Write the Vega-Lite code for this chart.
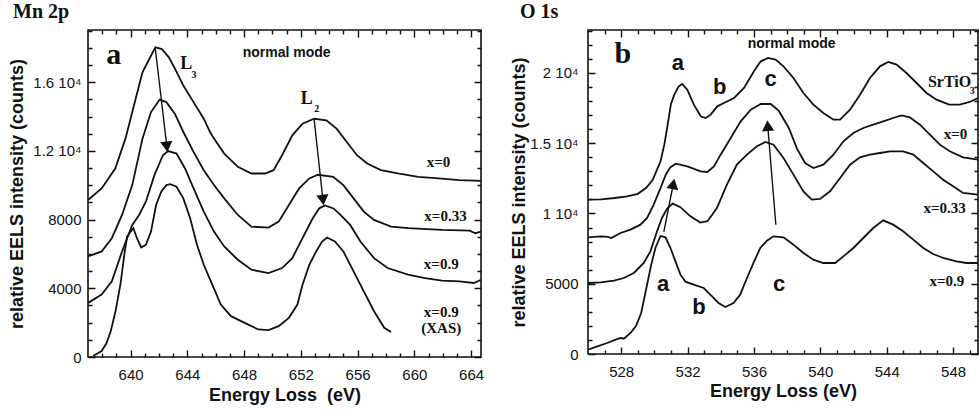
{
  "$schema": "https://vega.github.io/schema/vega-lite/v6.json",
  "padding": {"left": 7, "top": 0, "right": 0, "bottom": 0},
  "spacing": 24,
  "config": {
    "view": {"stroke": "#111", "strokeWidth": 1.6},
    "font": "Liberation Sans",
    "axis": {"ticks": false, "domain": false, "grid": true, "gridColor": "#111", "gridOpacity": 1, "gridWidth": 1.4, "labelColor": "#111", "titleColor": "#111", "labelFont": "Liberation Sans", "titleFont": "Liberation Sans", "labelFontSize": 15, "titleFontSize": 18, "titleFontWeight": "bold", "labelOverlap": false, "labelFlush": false},
    "title": {"font": "Liberation Serif", "fontSize": 20, "fontWeight": "bold", "color": "#111", "anchor": "start", "frame": "group", "baseline": "alphabetic", "offset": 8}
  },
  "datasets": {
    "mn": [
      {"s":"x0","E":637.0,"I":9140},{"s":"x0","E":637.96,"I":9816},{"s":"x0","E":638.92,"I":10976},{"s":"x0","E":639.64,"I":12715},{"s":"x0","E":640.36,"I":15034},{"s":"x0","E":640.84,"I":16580},{"s":"x0","E":641.32,"I":17353},{"s":"x0","E":641.75,"I":18030},{"s":"x0","E":642.2,"I":17932},{"s":"x0","E":642.7,"I":17449},{"s":"x0","E":643.2,"I":16676},{"s":"x0","E":643.72,"I":15807},{"s":"x0","E":644.44,"I":14841},{"s":"x0","E":645.16,"I":13874},{"s":"x0","E":645.6,"I":13100},{"s":"x0","E":645.88,"I":12715},{"s":"x0","E":646.6,"I":11845},{"s":"x0","E":647.56,"I":11072},{"s":"x0","E":648.52,"I":10686},{"s":"x0","E":649.48,"I":10686},{"s":"x0","E":650.08,"I":10879},{"s":"x0","E":650.68,"I":11749},{"s":"x0","E":651.4,"I":12908},{"s":"x0","E":652.12,"I":13585},{"s":"x0","E":652.94,"I":13870},{"s":"x0","E":653.8,"I":13778},{"s":"x0","E":654.52,"I":13295},{"s":"x0","E":655.24,"I":12522},{"s":"x0","E":655.96,"I":11749},{"s":"x0","E":656.68,"I":11266},{"s":"x0","E":657.64,"I":10879},{"s":"x0","E":658.84,"I":10686},{"s":"x0","E":660.28,"I":10493},{"s":"x0","E":661.72,"I":10396},{"s":"x0","E":663.16,"I":10300},{"s":"x0","E":664.7,"I":10250},
      {"s":"x033","E":637.0,"I":5855},{"s":"x033","E":637.96,"I":6145},{"s":"x033","E":638.68,"I":6918},{"s":"x033","E":639.4,"I":8271},{"s":"x033","E":640.12,"I":10010},{"s":"x033","E":640.84,"I":12715},{"s":"x033","E":641.44,"I":14261},{"s":"x033","E":642.05,"I":14990},{"s":"x033","E":642.52,"I":14841},{"s":"x033","E":643.12,"I":14164},{"s":"x033","E":643.72,"I":13101},{"s":"x033","E":644.44,"I":11942},{"s":"x033","E":645.16,"I":10879},{"s":"x033","E":645.88,"I":10010},{"s":"x033","E":646.6,"I":9237},{"s":"x033","E":647.56,"I":8271},{"s":"x033","E":648.52,"I":7594},{"s":"x033","E":649.72,"I":7536},{"s":"x033","E":650.44,"I":7884},{"s":"x033","E":651.16,"I":8850},{"s":"x033","E":651.88,"I":9816},{"s":"x033","E":652.6,"I":10396},{"s":"x033","E":653.2,"I":10610},{"s":"x033","E":654.28,"I":10493},{"s":"x033","E":655.0,"I":10010},{"s":"x033","E":655.72,"I":9237},{"s":"x033","E":656.44,"I":8464},{"s":"x033","E":657.16,"I":7981},{"s":"x033","E":658.36,"I":7594},{"s":"x033","E":659.56,"I":7498},{"s":"x033","E":661.96,"I":7401},{"s":"x033","E":663.9,"I":7362},{"s":"x033","E":664.3,"I":7208},{"s":"x033","E":664.7,"I":7300},
      {"s":"x09","E":637.0,"I":3150},{"s":"x09","E":637.96,"I":3633},{"s":"x09","E":638.68,"I":4406},{"s":"x09","E":639.4,"I":6145},{"s":"x09","E":640.12,"I":7691},{"s":"x09","E":640.6,"I":8271},{"s":"x09","E":641.08,"I":9044},{"s":"x09","E":641.68,"I":10589},{"s":"x09","E":642.28,"I":11749},{"s":"x09","E":642.65,"I":11990},{"s":"x09","E":643.24,"I":11845},{"s":"x09","E":643.84,"I":10976},{"s":"x09","E":644.44,"I":9816},{"s":"x09","E":645.16,"I":8464},{"s":"x09","E":645.88,"I":7304},{"s":"x09","E":646.6,"I":6435},{"s":"x09","E":647.56,"I":5662},{"s":"x09","E":648.52,"I":5082},{"s":"x09","E":649.72,"I":4889},{"s":"x09","E":650.68,"I":5179},{"s":"x09","E":651.4,"I":5758},{"s":"x09","E":652.12,"I":6918},{"s":"x09","E":652.84,"I":8078},{"s":"x09","E":653.3,"I":8657},{"s":"x09","E":653.7,"I":8820},{"s":"x09","E":654.3,"I":8650},{"s":"x09","E":654.76,"I":8300},{"s":"x09","E":655.48,"I":7691},{"s":"x09","E":656.2,"I":6725},{"s":"x09","E":657.16,"I":5758},{"s":"x09","E":658.12,"I":5179},{"s":"x09","E":659.56,"I":4792},{"s":"x09","E":660.76,"I":4599},{"s":"x09","E":661.96,"I":4444},{"s":"x09","E":663.16,"I":4406},{"s":"x09","E":664.2,"I":4309},{"s":"x09","E":664.7,"I":4500},
      {"s":"xas","E":637.36,"I":58},{"s":"xas","E":637.96,"I":348},{"s":"xas","E":638.3,"I":800},{"s":"xas","E":638.6,"I":1500},{"s":"xas","E":638.95,"I":2700},{"s":"xas","E":639.3,"I":4300},{"s":"xas","E":639.55,"I":5900},{"s":"xas","E":639.75,"I":7000},{"s":"xas","E":640.0,"I":7304},{"s":"xas","E":640.2,"I":7498},{"s":"xas","E":640.45,"I":6918},{"s":"xas","E":640.75,"I":6377},{"s":"xas","E":641.08,"I":6532},{"s":"xas","E":641.44,"I":7304},{"s":"xas","E":641.8,"I":8850},{"s":"xas","E":642.16,"I":9623},{"s":"xas","E":642.52,"I":10010},{"s":"xas","E":642.8,"I":10060},{"s":"xas","E":643.24,"I":9913},{"s":"xas","E":643.72,"I":9237},{"s":"xas","E":644.2,"I":8077},{"s":"xas","E":644.68,"I":6532},{"s":"xas","E":645.16,"I":5372},{"s":"xas","E":645.76,"I":4213},{"s":"xas","E":646.36,"I":3053},{"s":"xas","E":647.08,"I":2377},{"s":"xas","E":648.04,"I":1990},{"s":"xas","E":649.0,"I":1604},{"s":"xas","E":649.72,"I":1565},{"s":"xas","E":650.44,"I":1797},{"s":"xas","E":651.16,"I":2280},{"s":"xas","E":651.76,"I":3053},{"s":"xas","E":652.12,"I":4213},{"s":"xas","E":652.6,"I":5372},{"s":"xas","E":653.08,"I":6145},{"s":"xas","E":653.5,"I":6725},{"s":"xas","E":653.85,"I":6957},{"s":"xas","E":654.4,"I":6725},{"s":"xas","E":655.0,"I":6145},{"s":"xas","E":655.72,"I":4986},{"s":"xas","E":656.44,"I":3826},{"s":"xas","E":657.16,"I":2667},{"s":"xas","E":657.88,"I":1700},{"s":"xas","E":658.36,"I":1449}
    ],
    "o": [
      {"s":"sto","E":526.0,"I":10985},{"s":"sto","E":526.8,"I":11000},{"s":"sto","E":527.6,"I":11103},{"s":"sto","E":528.36,"I":11224},{"s":"sto","E":529.0,"I":11400},{"s":"sto","E":529.5,"I":11815},{"s":"sto","E":529.9,"I":12400},{"s":"sto","E":530.37,"I":13715},{"s":"sto","E":530.6,"I":14900},{"s":"sto","E":530.8,"I":16323},{"s":"sto","E":531.0,"I":17800},{"s":"sto","E":531.2,"I":18458},{"s":"sto","E":531.47,"I":19050},{"s":"sto","E":531.68,"I":19217},{"s":"sto","E":531.98,"I":18814},{"s":"sto","E":532.38,"I":17746},{"s":"sto","E":532.79,"I":16916},{"s":"sto","E":533.09,"I":16797},{"s":"sto","E":533.39,"I":17035},{"s":"sto","E":533.79,"I":17628},{"s":"sto","E":534.19,"I":17865},{"s":"sto","E":534.8,"I":18221},{"s":"sto","E":535.4,"I":18932},{"s":"sto","E":536.0,"I":20119},{"s":"sto","E":536.41,"I":20830},{"s":"sto","E":536.85,"I":21068},{"s":"sto","E":537.3,"I":20949},{"s":"sto","E":537.78,"I":20474},{"s":"sto","E":538.38,"I":19644},{"s":"sto","E":538.98,"I":18577},{"s":"sto","E":539.58,"I":17746},{"s":"sto","E":540.18,"I":17153},{"s":"sto","E":540.79,"I":16679},{"s":"sto","E":541.19,"I":16679},{"s":"sto","E":541.79,"I":17390},{"s":"sto","E":542.39,"I":18458},{"s":"sto","E":542.99,"I":19644},{"s":"sto","E":543.59,"I":20474},{"s":"sto","E":544.09,"I":20783},{"s":"sto","E":544.59,"I":20593},{"s":"sto","E":545.19,"I":20000},{"s":"sto","E":545.8,"I":19288},{"s":"sto","E":546.4,"I":18577},{"s":"sto","E":547.0,"I":18102},{"s":"sto","E":547.76,"I":17746},{"s":"sto","E":548.4,"I":17746},{"s":"sto","E":549.0,"I":17936},{"s":"sto","E":549.5,"I":18221},
      {"s":"x0","E":526.0,"I":8304},{"s":"x0","E":526.76,"I":8375},{"s":"x0","E":527.2,"I":8330},{"s":"x0","E":527.4,"I":8250},{"s":"x0","E":527.96,"I":8612},{"s":"x0","E":528.56,"I":8849},{"s":"x0","E":529.16,"I":9205},{"s":"x0","E":529.56,"I":9680},{"s":"x0","E":529.96,"I":10629},{"s":"x0","E":530.37,"I":11815},{"s":"x0","E":530.7,"I":12800},{"s":"x0","E":530.97,"I":13300},{"s":"x0","E":531.3,"I":13550},{"s":"x0","E":531.98,"I":13357},{"s":"x0","E":532.79,"I":13001},{"s":"x0","E":533.19,"I":12954},{"s":"x0","E":533.59,"I":13357},{"s":"x0","E":533.99,"I":14187},{"s":"x0","E":534.6,"I":15374},{"s":"x0","E":535.2,"I":16560},{"s":"x0","E":535.81,"I":17390},{"s":"x0","E":536.41,"I":17794},{"s":"x0","E":537.01,"I":17794},{"s":"x0","E":537.5,"I":17300},{"s":"x0","E":538.1,"I":16085},{"s":"x0","E":538.6,"I":14600},{"s":"x0","E":539.08,"I":13594},{"s":"x0","E":539.58,"I":13238},{"s":"x0","E":540.18,"I":13476},{"s":"x0","E":540.79,"I":14187},{"s":"x0","E":541.39,"I":15136},{"s":"x0","E":541.99,"I":15729},{"s":"x0","E":542.59,"I":16085},{"s":"x0","E":543.19,"I":16323},{"s":"x0","E":543.79,"I":16560},{"s":"x0","E":544.39,"I":16797},{"s":"x0","E":544.89,"I":16987},{"s":"x0","E":545.39,"I":16845},{"s":"x0","E":546.0,"I":16323},{"s":"x0","E":546.6,"I":15611},{"s":"x0","E":547.2,"I":14899},{"s":"x0","E":547.8,"I":14425},{"s":"x0","E":548.6,"I":13998},{"s":"x0","E":549.5,"I":13832},
      {"s":"x033","E":526.0,"I":5053},{"s":"x033","E":526.76,"I":5101},{"s":"x033","E":527.56,"I":5219},{"s":"x033","E":528.16,"I":5409},{"s":"x033","E":528.76,"I":5765},{"s":"x033","E":529.36,"I":6477},{"s":"x033","E":529.76,"I":7307},{"s":"x033","E":530.16,"I":8731},{"s":"x033","E":530.46,"I":9700},{"s":"x033","E":530.77,"I":10350},{"s":"x033","E":531.1,"I":10700},{"s":"x033","E":531.57,"I":10450},{"s":"x033","E":532.17,"I":9800},{"s":"x033","E":532.77,"I":9350},{"s":"x033","E":533.2,"I":9450},{"s":"x033","E":533.77,"I":10391},{"s":"x033","E":534.37,"I":12052},{"s":"x033","E":534.97,"I":13476},{"s":"x033","E":535.58,"I":14187},{"s":"x033","E":536.18,"I":14781},{"s":"x033","E":536.68,"I":15089},{"s":"x033","E":537.18,"I":14899},{"s":"x033","E":537.78,"I":13950},{"s":"x033","E":538.38,"I":12764},{"s":"x033","E":538.98,"I":11577},{"s":"x033","E":539.48,"I":10985},{"s":"x033","E":539.98,"I":11032},{"s":"x033","E":540.59,"I":11577},{"s":"x033","E":541.19,"I":12527},{"s":"x033","E":541.79,"I":13476},{"s":"x033","E":542.39,"I":13998},{"s":"x033","E":542.99,"I":14187},{"s":"x033","E":543.59,"I":14306},{"s":"x033","E":544.19,"I":14425},{"s":"x033","E":544.99,"I":14425},{"s":"x033","E":545.6,"I":14187},{"s":"x033","E":546.2,"I":13594},{"s":"x033","E":546.8,"I":13001},{"s":"x033","E":547.4,"I":12408},{"s":"x033","E":548.0,"I":11934},{"s":"x033","E":548.6,"I":11459},{"s":"x033","E":549.5,"I":11340},
      {"s":"x09","E":526.0,"I":308},{"s":"x09","E":526.56,"I":546},{"s":"x09","E":527.16,"I":783},{"s":"x09","E":527.66,"I":1020},{"s":"x09","E":527.96,"I":1139},{"s":"x09","E":528.16,"I":1091},{"s":"x09","E":528.56,"I":1495},{"s":"x09","E":528.9,"I":2000},{"s":"x09","E":529.2,"I":2900},{"s":"x09","E":529.5,"I":4600},{"s":"x09","E":529.8,"I":6300},{"s":"x09","E":530.06,"I":7544},{"s":"x09","E":530.37,"I":8400},{"s":"x09","E":530.67,"I":8304},{"s":"x09","E":530.97,"I":7544},{"s":"x09","E":531.27,"I":6595},{"s":"x09","E":531.57,"I":5646},{"s":"x09","E":531.87,"I":5150},{"s":"x09","E":532.37,"I":4935},{"s":"x09","E":532.97,"I":4698},{"s":"x09","E":533.37,"I":4223},{"s":"x09","E":533.87,"I":3630},{"s":"x09","E":534.27,"I":3345},{"s":"x09","E":534.77,"I":3630},{"s":"x09","E":535.17,"I":4223},{"s":"x09","E":535.58,"I":5409},{"s":"x09","E":535.98,"I":6500},{"s":"x09","E":536.38,"I":7544},{"s":"x09","E":536.78,"I":8066},{"s":"x09","E":537.18,"I":8375},{"s":"x09","E":537.78,"I":8304},{"s":"x09","E":538.38,"I":7782},{"s":"x09","E":538.98,"I":7189},{"s":"x09","E":539.58,"I":6714},{"s":"x09","E":540.18,"I":6477},{"s":"x09","E":540.89,"I":6477},{"s":"x09","E":541.39,"I":6951},{"s":"x09","E":541.99,"I":7544},{"s":"x09","E":542.59,"I":8256},{"s":"x09","E":543.19,"I":8968},{"s":"x09","E":543.79,"I":9514},{"s":"x09","E":544.39,"I":9205},{"s":"x09","E":544.99,"I":8731},{"s":"x09","E":545.6,"I":8138},{"s":"x09","E":546.2,"I":7544},{"s":"x09","E":546.8,"I":7117},{"s":"x09","E":547.4,"I":6833},{"s":"x09","E":548.2,"I":6595},{"s":"x09","E":548.8,"I":6477},{"s":"x09","E":549.5,"I":6477}
    ]
  },
  "hconcat": [
    {
      "width": 393,
      "height": 327,
      "title": {"text": "Mn 2p", "dx": -75},
      "layer": [
        {
          "data": {"name": "mn"},
          "mark": {"type": "line", "color": "#111", "strokeWidth": 1.8, "clip": true},
          "encoding": {
            "x": {"field": "E", "type": "quantitative", "scale": {"domain": [637, 664.7], "nice": false, "zero": false},
              "axis": {"title": "Energy Loss\u00a0 (eV)", "values": [638,639,640,641,642,643,644,645,646,647,648,649,650,651,652,653,654,655,656,657,658,659,660,661,662,663,664], "tickCount": 1000,
                "labelExpr": "datum.value % 4 === 0 ? format(datum.value, 'd') : ''",
                "labelFontSize": {"condition": {"test": "datum.value % 4 === 0", "value": 15}, "value": 1},
                "grid": true,
                "gridDash": {"condition": {"test": "datum.value % 4 === 0", "value": [7, 313, 7, 2000]}, "value": [4, 319, 4, 2000]},
                "labelOverlap": false, "labelFlush": false, "labelPadding": 10, "titlePadding": 4}},
            "y": {"field": "I", "type": "quantitative", "scale": {"domain": [0, 19040], "nice": false},
              "axis": {"title": "relative EELS intensity (counts)", "values": [0,1000,2000,3000,4000,5000,6000,7000,8000,9000,10000,11000,12000,13000,14000,15000,16000,17000,18000,19000], "tickCount": 1000,
                "labelExpr": "datum.value % 4000 === 0 ? (datum.value >= 10000 ? format(datum.value / 10000, '.1f') + ' 10⁴' : format(datum.value, 'd')) : ''",
                "labelFontSize": {"condition": {"test": "datum.value % 4000 === 0", "value": 15}, "value": 1},
                "grid": true,
                "gridDash": {"condition": {"test": "datum.value % 4000 === 0", "value": [7, 379, 7, 3000]}, "value": [4, 385, 4, 3000]},
                "labelOverlap": false, "labelFlush": false, "labelPadding": 7, "titlePadding": 4, "minExtent": 58, "maxExtent": 58}},
            "detail": {"field": "s"}
          }
        },
        {
          "data": {"values": [{"x": 641.74, "y": 17977, "x2": 642.56, "y2": 12240}, {"x": 652.94, "y": 13826, "x2": 653.56, "y2": 9140}]},
          "mark": {"type": "rule", "color": "#111", "strokeWidth": 1.4},
          "encoding": {"x": {"field": "x", "type": "quantitative"}, "y": {"field": "y", "type": "quantitative"}, "x2": {"field": "x2"}, "y2": {"field": "y2"}}
        },
        {
          "data": {"values": [{"x2": 642.56, "y2": 12240}, {"x2": 653.56, "y2": 9140}]},
          "mark": {"type": "point", "shape": "triangle-down", "filled": true, "color": "#111", "opacity": 1, "size": 150, "angle": -6.5},
          "encoding": {"x": {"field": "x2", "type": "quantitative"}, "y": {"field": "y2", "type": "quantitative"}}
        },
        {
          "data": {"values": [{"t": "a", "x": 638.82, "y": 17064}]},
          "mark": {"type": "text", "font": "Liberation Serif", "fontSize": 30, "fontWeight": "bold", "color": "#111", "align": "center", "baseline": "alphabetic"},
          "encoding": {"x": {"field": "x", "type": "quantitative"}, "y": {"field": "y", "type": "quantitative"}, "text": {"field": "t"}}
        },
        {
          "data": {"values": [{"t": "normal mode", "x": 651.0, "y": 17471}]},
          "mark": {"type": "text", "font": "Liberation Sans", "fontSize": 14, "fontWeight": "bold", "color": "#111", "align": "center", "baseline": "alphabetic"},
          "encoding": {"x": {"field": "x", "type": "quantitative"}, "y": {"field": "y", "type": "quantitative"}, "text": {"field": "t"}}
        },
        {
          "data": {"values": [{"t": "L", "x": 643.5, "y": 16773}, {"t": "L", "x": 652.0, "y": 14738}]},
          "mark": {"type": "text", "font": "Liberation Serif", "fontSize": 18, "fontWeight": "bold", "color": "#111", "align": "left", "baseline": "alphabetic"},
          "encoding": {"x": {"field": "x", "type": "quantitative"}, "y": {"field": "y", "type": "quantitative"}, "text": {"field": "t"}}
        },
        {
          "data": {"values": [{"t": "3", "x": 644.3, "y": 16233}, {"t": "2", "x": 652.94, "y": 14290}]},
          "mark": {"type": "text", "font": "Liberation Serif", "fontSize": 10, "fontWeight": "bold", "color": "#111", "align": "left", "baseline": "alphabetic"},
          "encoding": {"x": {"field": "x", "type": "quantitative"}, "y": {"field": "y", "type": "quantitative"}, "text": {"field": "t"}}
        },
        {
          "data": {"values": [{"t": "x=0", "x": 661.7, "y": 11060}, {"t": "x=0.33", "x": 662.2, "y": 7920}, {"t": "x=0.9", "x": 661.9, "y": 5140}, {"t": "x=0.9", "x": 661.9, "y": 2330}, {"t": "(XAS)", "x": 661.9, "y": 1411}]},
          "mark": {"type": "text", "font": "Liberation Serif", "fontSize": 15, "fontWeight": "bold", "color": "#111", "align": "center", "baseline": "alphabetic"},
          "encoding": {"x": {"field": "x", "type": "quantitative"}, "y": {"field": "y", "type": "quantitative"}, "text": {"field": "t"}}
        }
      ]
    },
    {
      "width": 390,
      "height": 324,
      "title": {"text": "O 1s", "dx": -68},
      "layer": [
        {
          "data": {"name": "o"},
          "mark": {"type": "line", "color": "#111", "strokeWidth": 1.8, "clip": true},
          "encoding": {
            "x": {"field": "E", "type": "quantitative", "scale": {"domain": [526, 549.5], "nice": false, "zero": false},
              "axis": {"title": "Energy Loss (eV)", "values": [527,528,529,530,531,532,533,534,535,536,537,538,539,540,541,542,543,544,545,546,547,548,549], "tickCount": 1000,
                "labelExpr": "datum.value % 4 === 0 ? format(datum.value, 'd') : ''",
                "labelFontSize": {"condition": {"test": "datum.value % 4 === 0", "value": 15}, "value": 1},
                "grid": true,
                "gridDash": {"condition": {"test": "datum.value % 4 === 0", "value": [7, 310, 7, 2000]}, "value": [4, 316, 4, 2000]},
                "labelOverlap": false, "labelFlush": false, "labelPadding": 10, "titlePadding": 3}},
            "y": {"field": "I", "type": "quantitative", "scale": {"domain": [0, 23060], "nice": false},
              "axis": {"title": "relative EELS intensity (counts)", "values": [0,1000,2000,3000,4000,5000,6000,7000,8000,9000,10000,11000,12000,13000,14000,15000,16000,17000,18000,19000,20000,21000,22000,23000], "tickCount": 1000,
                "labelExpr": "datum.value % 5000 === 0 ? (datum.value >= 10000 ? format(datum.value / 10000, '~g') + ' 10⁴' : format(datum.value, 'd')) : ''",
                "labelFontSize": {"condition": {"test": "datum.value % 5000 === 0", "value": 15}, "value": 1},
                "grid": true,
                "gridDash": {"condition": {"test": "datum.value % 5000 === 0", "value": [7, 376, 7, 3000]}, "value": [4, 382, 4, 3000]},
                "labelOverlap": false, "labelFlush": false, "labelPadding": 10, "titlePadding": 2, "minExtent": 58, "maxExtent": 58}},
            "detail": {"field": "s"}
          }
        },
        {
          "data": {"values": [{"id": "a", "x": 530.57, "y": 8700, "x2": 531.14, "y2": 12100}, {"id": "c", "x": 537.32, "y": 9200, "x2": 536.83, "y2": 16250}]},
          "mark": {"type": "rule", "color": "#111", "strokeWidth": 1.4},
          "encoding": {"x": {"field": "x", "type": "quantitative"}, "y": {"field": "y", "type": "quantitative"}, "x2": {"field": "x2"}, "y2": {"field": "y2"}}
        },
        {
          "data": {"values": [{"x2": 531.14, "y2": 12100}]},
          "mark": {"type": "point", "shape": "triangle-up", "filled": true, "color": "#111", "opacity": 1, "size": 150, "angle": 10.5},
          "encoding": {"x": {"field": "x2", "type": "quantitative"}, "y": {"field": "y2", "type": "quantitative"}}
        },
        {
          "data": {"values": [{"x2": 536.83, "y2": 16250}]},
          "mark": {"type": "point", "shape": "triangle-up", "filled": true, "color": "#111", "opacity": 1, "size": 150, "angle": -4.6},
          "encoding": {"x": {"field": "x2", "type": "quantitative"}, "y": {"field": "y2", "type": "quantitative"}}
        },
        {
          "data": {"values": [{"t": "b", "x": 528.1, "y": 20712}]},
          "mark": {"type": "text", "font": "Liberation Serif", "fontSize": 30, "fontWeight": "bold", "color": "#111", "align": "center", "baseline": "alphabetic"},
          "encoding": {"x": {"field": "x", "type": "quantitative"}, "y": {"field": "y", "type": "quantitative"}, "text": {"field": "t"}}
        },
        {
          "data": {"values": [{"t": "normal mode", "x": 538.27, "y": 21779}]},
          "mark": {"type": "text", "font": "Liberation Sans", "fontSize": 14, "fontWeight": "bold", "color": "#111", "align": "center", "baseline": "alphabetic"},
          "encoding": {"x": {"field": "x", "type": "quantitative"}, "y": {"field": "y", "type": "quantitative"}, "text": {"field": "t"}}
        },
        {
          "data": {"values": [{"t": "a", "x": 531.42, "y": 20200}, {"t": "b", "x": 533.93, "y": 18520}, {"t": "c", "x": 537.0, "y": 19090}, {"t": "a", "x": 530.52, "y": 4508}, {"t": "b", "x": 532.68, "y": 2847}, {"t": "c", "x": 537.52, "y": 4508}]},
          "mark": {"type": "text", "font": "Liberation Sans", "fontSize": 22, "fontWeight": "bold", "color": "#111", "align": "center", "baseline": "alphabetic"},
          "encoding": {"x": {"field": "x", "type": "quantitative"}, "y": {"field": "y", "type": "quantitative"}, "text": {"field": "t"}}
        },
        {
          "data": {"values": [{"t": "SrTiO", "x": 546.48, "y": 18980}]},
          "mark": {"type": "text", "font": "Liberation Serif", "fontSize": 16, "fontWeight": "bold", "color": "#111", "align": "left", "baseline": "alphabetic"},
          "encoding": {"x": {"field": "x", "type": "quantitative"}, "y": {"field": "y", "type": "quantitative"}, "text": {"field": "t"}}
        },
        {
          "data": {"values": [{"t": "3", "x": 549.0, "y": 18505}]},
          "mark": {"type": "text", "font": "Liberation Serif", "fontSize": 10, "fontWeight": "bold", "color": "#111", "align": "left", "baseline": "alphabetic"},
          "encoding": {"x": {"field": "x", "type": "quantitative"}, "y": {"field": "y", "type": "quantitative"}, "text": {"field": "t"}}
        },
        {
          "data": {"values": [{"t": "x=0", "x": 548.14, "y": 15302}, {"t": "x=0.33", "x": 547.49, "y": 10036}, {"t": "x=0.9", "x": 547.62, "y": 4819}]},
          "mark": {"type": "text", "font": "Liberation Serif", "fontSize": 15, "fontWeight": "bold", "color": "#111", "align": "center", "baseline": "alphabetic"},
          "encoding": {"x": {"field": "x", "type": "quantitative"}, "y": {"field": "y", "type": "quantitative"}, "text": {"field": "t"}}
        }
      ]
    }
  ]
}
